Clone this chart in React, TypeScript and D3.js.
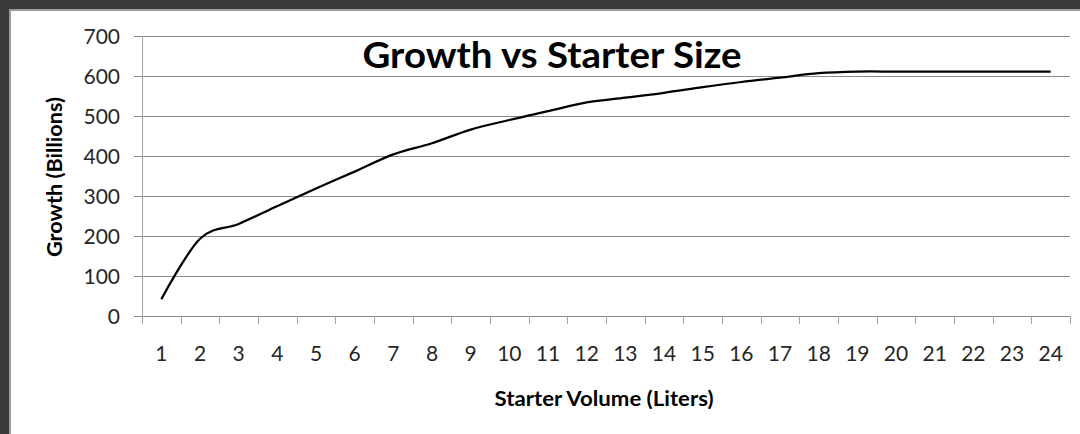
import React, { useEffect, useRef } from 'react';
import * as d3 from 'd3';

// starter volume in liters (category axis)
const volumes = ['1', '2', '3', '4', '5', '6', '7', '8', '9', '10', '11', '12',
  '13', '14', '15', '16', '17', '18', '19', '20', '21', '22', '23', '24'];

// growth in billions
const growth = [42, 193, 230, 275, 319, 361, 404, 432, 466, 490, 512, 534,
  546, 558, 572, 585, 596, 607, 611, 611, 611, 611, 611, 611];

const yTicks = [0, 100, 200, 300, 400, 500, 600, 700];

const title = 'Growth vs Starter Size';
const xTitle = 'Starter Volume (Liters)';
const yTitle = 'Growth (Billions)';

const FONT = 'Lato, "Open Sans", sans-serif';

const App = () => {
  const svgRef = useRef<SVGSVGElement>(null);

  useEffect(() => {
    const width = 1080, height = 434;
    const left = 142, right = 1070, top = 36, bottom = 316;

    const svg = d3.select(svgRef.current);
    svg.selectAll('*').remove();
    svg.attr('width', width).attr('height', height);

    // page background + dark frame on the top/left
    svg.append('rect').attr('width', width).attr('height', height).attr('fill', '#fff');
    svg.append('rect').attr('width', width).attr('height', 11).attr('fill', '#9b9b9b');
    svg.append('rect').attr('width', 11).attr('height', height).attr('fill', '#9b9b9b');
    svg.append('rect').attr('width', width).attr('height', 9).attr('fill', '#3b3b3b');
    svg.append('rect').attr('width', 9).attr('height', height).attr('fill', '#3b3b3b');

    const x = d3.scaleBand().domain(volumes).range([left, right]).padding(0);
    const y = d3.scaleLinear().domain([0, 700]).range([bottom, top]);

    // horizontal gridlines
    svg.append('g')
      .selectAll('line')
      .data(yTicks.filter(t => t > 0))
      .enter().append('line')
      .attr('x1', left - 8)
      .attr('x2', right)
      .attr('y1', d => Math.round(y(d)) + 0.5)
      .attr('y2', d => Math.round(y(d)) + 0.5)
      .attr('stroke', '#8a8a8a')
      .attr('stroke-width', 1);

    // axes
    const axisColor = '#a3a3a3';
    svg.append('line')
      .attr('x1', left + 0.5).attr('x2', left + 0.5)
      .attr('y1', top).attr('y2', bottom + 8)
      .attr('stroke', axisColor);
    svg.append('line')
      .attr('x1', left - 8).attr('x2', right)
      .attr('y1', bottom + 0.5).attr('y2', bottom + 0.5)
      .attr('stroke', '#8a8a8a');

    // x tick marks between categories
    const edges = volumes.map(v => x(v) as number).concat([right]);
    svg.append('g')
      .selectAll('line')
      .data(edges)
      .enter().append('line')
      .attr('x1', d => Math.round(d) + 0.5)
      .attr('x2', d => Math.round(d) + 0.5)
      .attr('y1', bottom)
      .attr('y2', bottom + 8)
      .attr('stroke', axisColor);

    // y tick labels
    svg.append('g')
      .selectAll('text')
      .data(yTicks)
      .enter().append('text')
      .attr('x', 120)
      .attr('y', d => y(d))
      .attr('dy', '0.36em')
      .attr('text-anchor', 'end')
      .attr('font-family', FONT)
      .attr('font-size', 21)
      .attr('fill', '#262626')
      .text(d => d);

    // x tick labels
    svg.append('g')
      .selectAll('text')
      .data(volumes)
      .enter().append('text')
      .attr('x', d => (x(d) as number) + x.bandwidth() / 2)
      .attr('y', 361)
      .attr('text-anchor', 'middle')
      .attr('font-family', FONT)
      .attr('font-size', 21)
      .attr('fill', '#262626')
      .text(d => d);

    // smoothed series line (Excel-style uniform spline)
    const line = d3.line<number>()
      .x((d, i) => (x(volumes[i]) as number) + x.bandwidth() / 2)
      .y(d => y(d))
      .curve(d3.curveCatmullRom.alpha(0));

    svg.append('path')
      .datum(growth)
      .attr('d', line)
      .attr('fill', 'none')
      .attr('stroke', '#000')
      .attr('stroke-width', 2.25)
      .attr('stroke-linejoin', 'round');

    // titles
    svg.append('text')
      .attr('x', 552)
      .attr('y', 68)
      .attr('text-anchor', 'middle')
      .attr('font-family', FONT)
      .attr('font-weight', 'bold')
      .attr('font-size', 36)
      .attr('textLength', 379)
      .attr('lengthAdjust', 'spacingAndGlyphs')
      .attr('fill', '#000')
      .text(title);

    svg.append('text')
      .attr('x', 604)
      .attr('y', 406)
      .attr('text-anchor', 'middle')
      .attr('font-family', FONT)
      .attr('font-weight', 'bold')
      .attr('font-size', 20)
      .attr('textLength', 219)
      .attr('lengthAdjust', 'spacingAndGlyphs')
      .attr('fill', '#000')
      .text(xTitle);

    svg.append('text')
      .attr('transform', 'translate(62,177) rotate(-90)')
      .attr('text-anchor', 'middle')
      .attr('font-family', FONT)
      .attr('font-weight', 'bold')
      .attr('font-size', 20)
      .attr('textLength', 160)
      .attr('lengthAdjust', 'spacingAndGlyphs')
      .attr('fill', '#000')
      .text(yTitle);
  }, []);

  return (
    <svg ref={svgRef} style={{ position: 'absolute', left: 0, top: 0, display: 'block' }}></svg>
  );
};

export default App;
